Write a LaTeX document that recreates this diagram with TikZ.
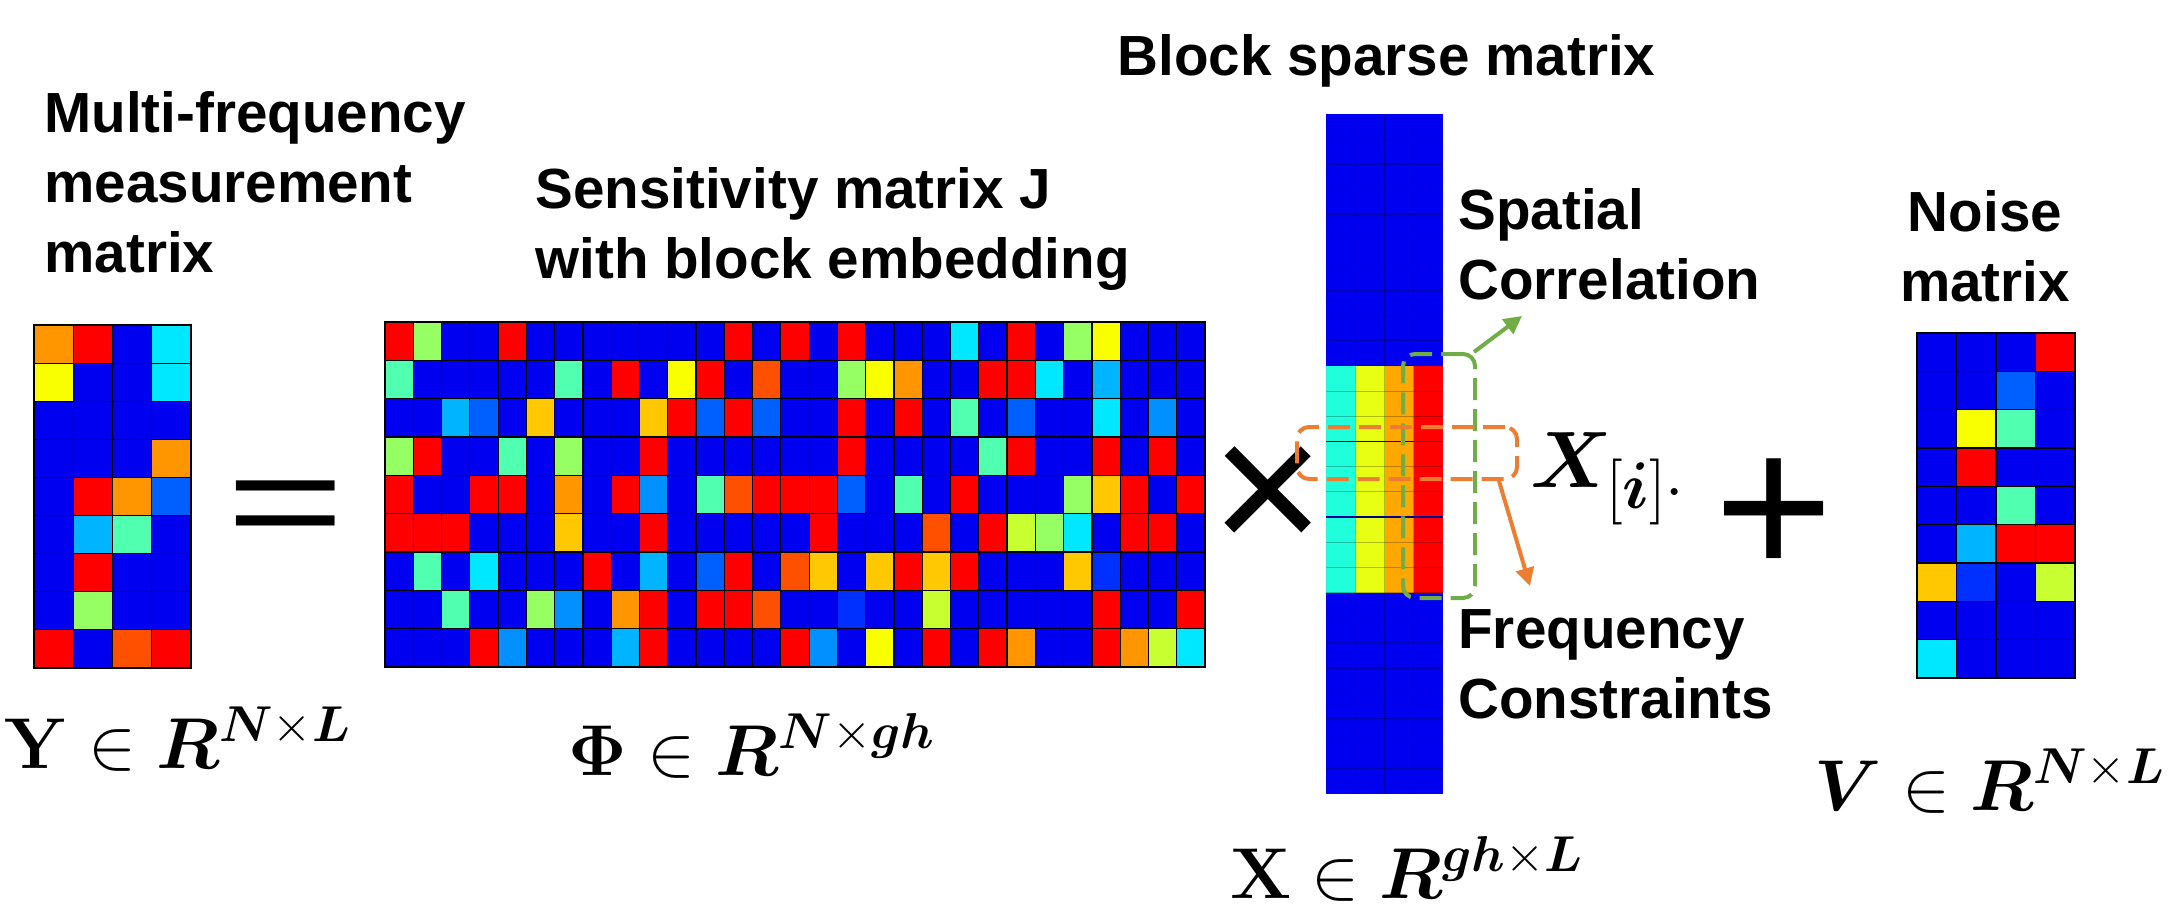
\RequirePackage{fix-cm}
\documentclass[tikz,border=0pt]{standalone}
\usepackage{amsmath, bm}
\usepackage[no-math]{fontspec}
\setsansfont{Liberation Sans}
\usepackage{tikz}
\usetikzlibrary{arrows.meta}

% jet-like cell colours
\definecolor{cb}{RGB}{0,0,240}
\definecolor{ck}{RGB}{0,48,255}
\definecolor{ca}{RGB}{0,96,255}
\definecolor{cd}{RGB}{0,144,255}
\definecolor{cs}{RGB}{0,180,255}
\definecolor{cc}{RGB}{0,232,255}
\definecolor{cq}{RGB}{80,255,176}
\definecolor{cl}{RGB}{150,255,100}
\definecolor{cv}{RGB}{200,255,48}
\definecolor{cy}{RGB}{250,255,0}
\definecolor{cg}{RGB}{255,200,0}
\definecolor{co}{RGB}{255,150,0}
\definecolor{cn}{RGB}{255,80,0}
\definecolor{cr}{RGB}{255,0,0}
\definecolor{xt}{RGB}{32,255,220}
\definecolor{xy}{RGB}{232,255,20}
\definecolor{xo}{RGB}{255,168,0}
\definecolor{spatgreen}{RGB}{112,173,71}
\definecolor{freqorange}{RGB}{237,125,49}

\begin{document}
\begin{tikzpicture}[
  x=0.5pt, y=-0.5pt,
  lab/.style={font=\sffamily\bfseries\fontsize{28.3}{35}\selectfont, inner sep=0pt, align=left},
  eqn/.style={font=\fontsize{36}{40}\selectfont, inner sep=0pt},
  op/.style={font=\sffamily\fontsize{106}{110}\selectfont, inner sep=0pt},
  cell/.style={draw=black, line width=0.6pt},
  faint/.style={draw=black, opacity=0.25, line width=0.5pt},
  dashbox/.style={rounded corners=6pt, line width=2pt, dash pattern=on 11pt off 4.5pt, inner sep=0pt},
  arrow/.style={-{Triangle[length=9pt,width=9pt]}, line width=2pt}
]
\useasboundingbox (0,0) rectangle (2174,922);

% Measurement matrix Y
\foreach \cells [count=\i] in {{o,r,b,c},{y,b,b,c},{b,b,b,b},{b,b,b,o},{b,r,o,a},
    {b,s,q,b},{b,r,b,b},{b,l,b,b},{r,b,n,r}}
  \foreach \c [count=\j] in \cells
    \filldraw[cell, fill=c\c] ({34+(\j-1)*39.25},{325+(\i-1)*38.11}) rectangle ++(39.25,38.11);

% Sensitivity matrix Phi
\foreach \cells [count=\i] in {
    {r,l,b,b,r,b,b,b,b,b,b,b,r,b,r,b,r,b,b,b,c,b,r,b,l,y,b,b,b},
    {q,b,b,b,b,b,q,b,r,b,y,r,b,n,b,b,l,y,o,b,b,r,r,c,b,s,b,b,b},
    {b,b,s,a,b,g,b,b,b,g,r,a,r,a,b,b,r,b,r,b,q,b,a,b,b,c,b,d,b},
    {l,r,b,b,q,b,l,b,b,r,b,b,b,b,b,b,r,b,b,b,b,q,r,b,b,r,b,r,b},
    {r,b,b,r,r,b,o,b,r,d,b,q,n,r,r,r,a,b,q,b,r,b,b,b,l,g,r,b,r},
    {r,r,r,b,b,b,g,b,b,r,b,b,b,b,b,r,b,b,b,n,b,r,v,l,c,b,r,r,b},
    {b,q,b,c,b,b,b,r,b,s,b,a,r,b,n,g,b,g,r,g,r,b,b,b,g,k,b,b,b},
    {b,b,q,b,b,l,d,b,o,r,b,r,r,n,b,b,k,b,b,v,b,b,b,b,b,r,b,b,r},
    {b,b,b,r,d,b,b,b,s,r,b,b,b,b,r,d,b,y,b,r,b,r,o,b,b,r,o,v,c}}
  \foreach \c [count=\j] in \cells
    \filldraw[cell, fill=c\c] ({385+(\j-1)*28.276},{322+(\i-1)*38.33}) rectangle ++(28.276,38.33);

% Block sparse matrix X
\fill[cb] (1326,114) rectangle (1443,794);
\foreach \c [count=\j] in {xt,xy,xo,cr}
  \fill[\c] ({1326+(\j-1)*29.25},{114+10*25.185}) rectangle ++(29.25,{9*25.185});
\foreach \i in {1,...,26}
  \draw[faint] (1326,{114+\i*25.185}) -- ++(117,0);
\foreach \j in {1,2,3}
  \draw[faint] ({1326+\j*29.25},114) -- ++(0,680);
\foreach \i in {13,16}
  \draw[draw=cb!60!black, line width=0.6pt] (1326,{114+\i*25.185}) -- ++(117,0);

% Noise matrix V
\foreach \cells [count=\i] in {{b,b,b,r},{b,b,a,b},{b,y,q,b},{b,r,b,b},{b,b,q,b},
    {b,s,r,r},{g,k,b,v},{b,b,b,b},{c,b,b,b}}
  \foreach \c [count=\j] in \cells
    \filldraw[cell, fill=c\c] ({1917+(\j-1)*39.5},{333+(\i-1)*38.33}) rectangle ++(39.5,38.33);

% Nodes
\node[lab, anchor=north west] (ytext) at (44,91) {Multi-frequency\\measurement\\matrix};
\node[lab, anchor=north west] (phitext) at (535,167) {Sensitivity matrix J\\with block embedding};
\node[lab, anchor=north west] (xtext) at (1117,34) {Block sparse matrix};
\node[lab, anchor=north west] (spattext) at (1458,188) {Spatial\\Correlation};
\node[lab, anchor=north west] (freqtext) at (1458,609) {Frequency\\Constraints};
\node[lab, align=center, anchor=north] (vtext) at (1985,190) {Noise\\matrix};

\node[eqn, anchor=base] (ydim) at (178,768) {$\mathbf{Y}\in\bm{R}^{\bm{N}\times\bm{L}}$};
\node[eqn, anchor=base] (phidim) at (752,775) {$\mathbf{\Phi}\in\bm{R}^{\bm{N}\times\bm{gh}}$};
\node[eqn, anchor=base] (xdim) at (1407,898) {$\mathbf{X}\in\bm{R}^{\bm{gh}\times\bm{L}}$};
\node[eqn, anchor=base] (vdim) at (1990,810) {$\bm{V}\in\bm{R}^{\bm{N}\times\bm{L}}$};
\node[eqn, font=\fontsize{40}{44}\selectfont, anchor=base west] (xrow) at (1530,487)
  {$\bm{X}_{\mbox{\fontsize{33}{36}\selectfont$[\bm{i}]\cdot$}}$};

\node[op, font=\sffamily\fontsize{70}{72}\selectfont, anchor=base] (equal) at (286,549) {\scalebox{1.45}[1]{=}};
\node[op, font=\sffamily\fontsize{97}{100}\selectfont, anchor=base] (times) at (1268,554) {×};
\node[op, font=\sffamily\fontsize{102}{104}\selectfont, anchor=base] (plus) at (1774,576) {+};

\node[dashbox, draw=spatgreen, minimum width=36pt, minimum height=122pt] (spatial) at (1439,476) {};
\node[dashbox, draw=freqorange, minimum width=110pt, minimum height=26pt] (freqband) at (1407,453) {};

% Pointers
\coordinate (spatend) at (1522,316);
\coordinate (freqend) at (1530,586);
\draw[arrow, spatgreen] ([xshift=-1.5pt]spatial.north east) -- (spatend);
\draw[arrow, freqorange] ([xshift=-10pt]freqband.south east) -- (freqend);
\end{tikzpicture}
\end{document}
